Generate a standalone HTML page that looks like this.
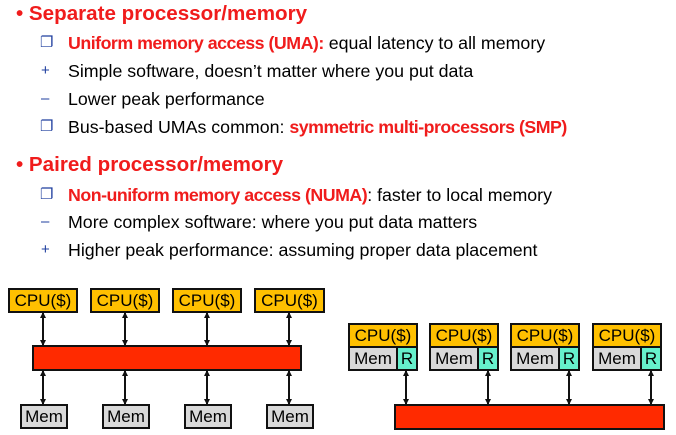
<!DOCTYPE html>
<html><head><meta charset="utf-8"><style>
body{margin:0;width:676px;height:435px;background:#fff;position:relative;overflow:hidden;font-family:"Liberation Sans",sans-serif}
.t{position:absolute;white-space:nowrap;color:#000;font-size:17.8px;line-height:18px}
.h{position:absolute;white-space:nowrap;color:#f01c1c;font-weight:bold;font-size:20.6px;line-height:22px}
.r{color:#f01c1c;font-weight:bold;letter-spacing:-0.5px}
.m{position:absolute;color:#1f3f9f;font-size:15px;line-height:18px}
.bx{position:absolute;box-sizing:border-box;border:2px solid #111;font-size:17px;text-align:center;line-height:22px;overflow:hidden}
.cpu{background:#ffc000}
.mem{background:#d9d9d9}
.rr{background:#66f0cc}
.bar{position:absolute;box-sizing:border-box;border:2px solid #111;background:#ff2a00}
</style></head><body>
<div class="h" style="left:16px;top:3px">• Separate processor/memory</div>
<div class="m" style="left:40px;top:34px">❐</div><div class="t" style="left:68px;top:34px"><span class="r">Uniform memory access (UMA):</span> equal latency to all memory</div>
<div class="m" style="left:41px;top:62px">+</div><div class="t" style="left:68px;top:62px">Simple software, doesn’t matter where you put data</div>
<div class="m" style="left:41px;top:90px">–</div><div class="t" style="left:68px;top:90px">Lower peak performance</div>
<div class="m" style="left:40px;top:118px">❐</div><div class="t" style="left:68px;top:118px">Bus-based UMAs common: <span class="r">symmetric multi-processors (SMP)</span></div>
<div class="h" style="left:16px;top:154px">• Paired processor/memory</div>
<div class="m" style="left:40px;top:186px">❐</div><div class="t" style="left:68px;top:186px"><span class="r">Non-uniform memory access (NUMA)</span>: faster to local memory</div>
<div class="m" style="left:41px;top:213px">–</div><div class="t" style="left:68px;top:213px">More complex software: where you put data matters</div>
<div class="m" style="left:41px;top:241px">+</div><div class="t" style="left:68px;top:241px">Higher peak performance: assuming proper data placement</div>

<svg style="position:absolute;left:0;top:0" width="676" height="435">
<defs><marker id="a" markerWidth="6" markerHeight="6" refX="5" refY="3" orient="auto-start-reverse" markerUnits="userSpaceOnUse"><path d="M0,0L6,3L0,6z" fill="#111"/></marker></defs>
<g stroke="#111" stroke-width="2" marker-start="url(#a)" marker-end="url(#a)">
<line x1="43" y1="313" x2="43" y2="345"/><line x1="125" y1="313" x2="125" y2="345"/><line x1="207" y1="313" x2="207" y2="345"/><line x1="289" y1="313" x2="289" y2="345"/>
<line x1="43" y1="371" x2="43" y2="404"/><line x1="125" y1="371" x2="125" y2="404"/><line x1="207" y1="371" x2="207" y2="404"/><line x1="289" y1="371" x2="289" y2="404"/>
<line x1="406" y1="371" x2="406" y2="404"/><line x1="488" y1="371" x2="488" y2="404"/><line x1="569" y1="371" x2="569" y2="404"/><line x1="651" y1="371" x2="651" y2="404"/>
</g></svg>

<div class="bx cpu" style="left:8px;top:288px;width:70px;height:25px">CPU($)</div>
<div class="bx cpu" style="left:90px;top:288px;width:70px;height:25px">CPU($)</div>
<div class="bx cpu" style="left:172px;top:288px;width:70px;height:25px">CPU($)</div>
<div class="bx cpu" style="left:254px;top:288px;width:71px;height:25px">CPU($)</div>
<div class="bar" style="left:32px;top:345px;width:270px;height:26px"></div>
<div class="bx mem" style="left:20px;top:404px;width:48px;height:25px">Mem</div>
<div class="bx mem" style="left:102px;top:404px;width:48px;height:25px">Mem</div>
<div class="bx mem" style="left:184px;top:404px;width:48px;height:25px">Mem</div>
<div class="bx mem" style="left:266px;top:404px;width:48px;height:25px">Mem</div>

<div class="bx cpu" style="left:348px;top:323px;width:70px;height:25px">CPU($)</div>
<div class="bx mem" style="left:348px;top:346px;width:50px;height:25px">Mem</div>
<div class="bx rr" style="left:396px;top:346px;width:22px;height:25px">R</div>
<div class="bx cpu" style="left:429px;top:323px;width:70px;height:25px">CPU($)</div>
<div class="bx mem" style="left:429px;top:346px;width:50px;height:25px">Mem</div>
<div class="bx rr" style="left:477px;top:346px;width:22px;height:25px">R</div>
<div class="bx cpu" style="left:510px;top:323px;width:70px;height:25px">CPU($)</div>
<div class="bx mem" style="left:510px;top:346px;width:50px;height:25px">Mem</div>
<div class="bx rr" style="left:558px;top:346px;width:22px;height:25px">R</div>
<div class="bx cpu" style="left:592px;top:323px;width:70px;height:25px">CPU($)</div>
<div class="bx mem" style="left:592px;top:346px;width:50px;height:25px">Mem</div>
<div class="bx rr" style="left:640px;top:346px;width:22px;height:25px">R</div>
<div class="bar" style="left:394px;top:404px;width:271px;height:26px"></div>
</body></html>
